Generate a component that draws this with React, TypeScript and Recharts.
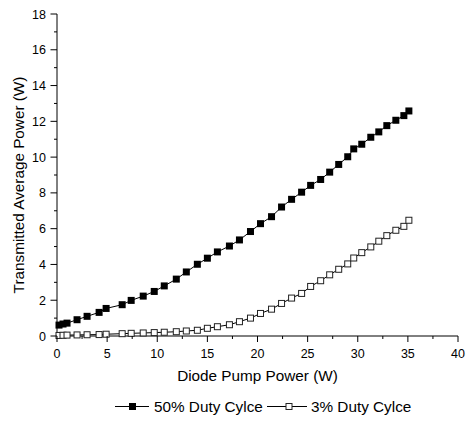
import { LineChart, Line, XAxis, YAxis } from "recharts";

const FONT = '"Liberation Sans", Arial, sans-serif';

// x values (pump power, W)
const pumpPower = [
  0.2, 0.6, 1.0, 2.0, 3.0, 4.2, 4.9, 6.5, 7.4, 8.6, 9.7, 10.7, 11.9, 12.9, 14.0, 15.0, 16.0, 17.2, 18.2,
  19.3, 20.3, 21.4, 22.4, 23.4, 24.4, 25.3, 26.3, 27.2, 28.1, 29.0, 29.6, 30.4, 31.3, 32.1, 32.9, 33.8,
  34.6, 35.1,
];

const duty50 = [
  0.61, 0.67, 0.72, 0.91, 1.1, 1.32, 1.54, 1.75, 1.99, 2.23, 2.49, 2.8, 3.18, 3.58, 4.01, 4.35, 4.7, 5.03,
  5.37, 5.84, 6.28, 6.67, 7.21, 7.64, 8.04, 8.42, 8.75, 9.16, 9.59, 10.02, 10.46, 10.72, 11.11, 11.41,
  11.76, 12.06, 12.32, 12.58,
];

const duty3 = [
  0.03, 0.04, 0.05, 0.06, 0.07, 0.08, 0.1, 0.13, 0.15, 0.17, 0.19, 0.21, 0.24, 0.28, 0.32, 0.43, 0.52,
  0.63, 0.8, 1.0, 1.26, 1.5, 1.82, 2.12, 2.38, 2.77, 3.09, 3.42, 3.73, 4.03, 4.36, 4.66, 4.98, 5.3, 5.61,
  5.91, 6.13, 6.47,
];

const xTicks = [0, 2.5, 5, 7.5, 10, 12.5, 15, 17.5, 20, 22.5, 25, 27.5, 30, 32.5, 35, 37.5, 40];
const yTicks = [0, 1, 2, 3, 4, 5, 6, 7, 8, 9, 10, 11, 12, 13, 14, 15, 16, 17, 18];

const data50 = pumpPower.map((x, i) => ({ x, y: duty50[i] }));
const data3 = pumpPower.map((x, i) => ({ x, y: duty3[i] }));

const YTick = ({ x, y, payload }: any) => {
  const major = payload.value % 2 === 0;
  return (
    <g>
      <line x1={x} x2={x - (major ? 6.5 : 3)} y1={y} y2={y} stroke="#000" />
      {major && (
        <text x={x - 11} y={y} dy="0.36em" textAnchor="end" fontSize={12.5} fontFamily={FONT} fill="#000">
          {payload.value}
        </text>
      )}
    </g>
  );
};

const XTick = ({ x, y, payload }: any) => {
  const major = payload.value % 5 === 0;
  return (
    <g>
      <line x1={x} x2={x} y1={y} y2={y + (major ? 6 : 3)} stroke="#000" />
      {major && (
        <text x={x} y={y + 22} textAnchor="middle" fontSize={12.5} fontFamily={FONT} fill="#000">
          {payload.value}
        </text>
      )}
    </g>
  );
};

const FilledDot = (p: any) => (
  <rect key={`f-${p.index}`} x={p.cx - 3.5} y={p.cy - 3.5} width={7} height={7} fill="#000" />
);

const OpenDot = (p: any) => (
  <rect key={`o-${p.index}`} x={p.cx - 3} y={p.cy - 3} width={6} height={6} fill="#fff" stroke="#222" strokeWidth={1} />
);

const Legend = () => (
  <svg width={466} height={421} style={{ position: "absolute", left: 0, top: 0, pointerEvents: "none" }}>
    <line x1={115} x2={149} y1={406.5} y2={406.5} stroke="#000" />
    <rect x={129} y={403} width={7} height={7} fill="#000" />
    <text x={154} y={411.5} fontSize={15.3} fontFamily={FONT} fill="#000">
      50% Duty Cylce
    </text>
    <line x1={267} x2={307} y1={406.5} y2={406.5} stroke="#000" />
    <rect x={286} y={403.5} width={6} height={6} fill="#fff" stroke="#222" />
    <text x={311} y={411.5} fontSize={15.3} fontFamily={FONT} fill="#000">
      3% Duty Cylce
    </text>
  </svg>
);

const App = () => {
  return (
    <div style={{ position: "fixed", left: 0, top: 0, width: 466, height: 421, background: "#fff" }}>
      <LineChart width={466} height={421} margin={{ top: 14, right: 8, left: 0, bottom: 35 }}>
        <XAxis
          type="number"
          dataKey="x"
          domain={[0, 40]}
          ticks={xTicks}
          interval={0}
          height={50}
          stroke="#000"
          tickLine={false}
          tickSize={0}
          tickMargin={0}
          tick={<XTick />}
          label={{
            value: "Diode Pump Power (W)",
            position: "insideBottom",
            offset: 5,
            fontSize: 15.3,
            fontFamily: FONT,
            fill: "#000",
          }}
        />
        <YAxis
          type="number"
          dataKey="y"
          domain={[0, 18]}
          ticks={yTicks}
          interval={0}
          width={57}
          stroke="#000"
          tickLine={false}
          tickSize={0}
          tickMargin={0}
          tick={<YTick />}
          label={{
            content: (props: any) => {
              const vb = props.viewBox;
              const cx = vb.x + 18.5;
              const cy = vb.y + vb.height / 2 + 10;
              return (
                <text
                  x={cx}
                  y={cy}
                  transform={`rotate(-90 ${cx} ${cy})`}
                  textAnchor="middle"
                  dominantBaseline="central"
                  fontSize={15.3}
                  fontFamily={FONT}
                  fill="#000"
                >
                  Transmitted Average Power (W)
                </text>
              );
            },
          }}
        />
        <Line
          data={data50}
          dataKey="y"
          stroke="#000"
          strokeWidth={1}
          dot={FilledDot}
          isAnimationActive={false}
        />
        <Line
          data={data3}
          dataKey="y"
          stroke="#000"
          strokeWidth={1}
          dot={OpenDot}
          isAnimationActive={false}
        />
      </LineChart>
      <Legend />
    </div>
  );
};

export default App;
